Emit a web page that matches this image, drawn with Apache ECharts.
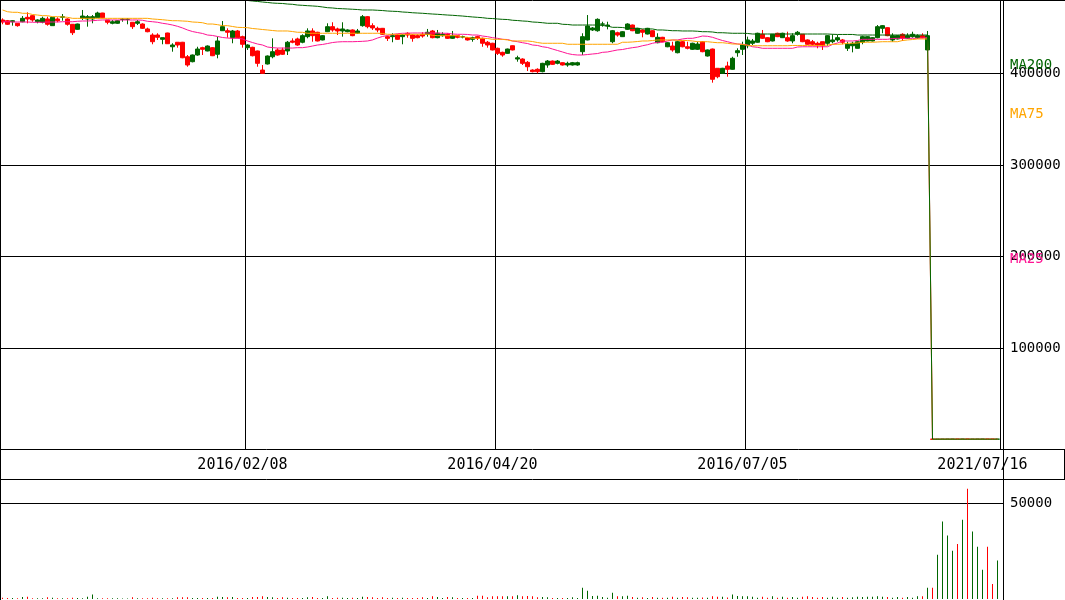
<!DOCTYPE html>
<html><head><meta charset="utf-8">
<script src="https://cdn.jsdelivr.net/npm/echarts@6/dist/echarts.min.js"></script>
<style>html,body{margin:0;padding:0;background:#fff}#c{width:1065px;height:600px}</style>
</head><body><div id="c"></div>
<script>
// candles: [open, close, low, high]
const candles = [
[458200,456000,453500,460000],[457400,453500,452700,458200],[456300,457400,452000,457900],[454600,452000,450900,454600],[456300,460000,455700,462500],
[461100,459300,454600,466600],[462900,458200,456300,463600],[456300,458200,454600,458900],[455700,460000,454600,461800],[459300,453500,452000,461800],
[452000,461100,452000,461500],[459300,457400,455700,461100],[461100,461800,457400,464700],[459300,453500,452000,460000],[453500,444300,441800,453800],
[448000,453800,447500,454200],[460000,462500,458200,469100],[459300,461800,450900,463600],[459300,461800,454600,463600],[460700,465800,460700,467200],
[465800,460700,460000,466000],[458200,455700,453500,458200],[454600,456300,453500,458200],[454600,457400,454000,458000],[458800,459100,456300,460000],
[458800,459100,453500,460000],[455700,450900,448400,456000],[454600,456300,452700,458200],[453800,449100,448400,454600],[448400,445400,444800,449800],
[441800,434500,431700,443700],[441800,439300,436400,443700],[437100,438900,431700,438900],[444000,432300,432000,444300],[429000,430900,423600,432800],
[433900,430900,428000,433900],[433900,417000,416500,434300],[418100,409100,407200,420000],[412700,420000,412000,420500],[420000,426500,419200,429000],
[428000,426200,420000,429000],[424400,429800,424000,430500],[428000,419200,418800,428500],[420800,435300,416400,440000],[446500,450900,446200,457100],
[446500,444800,438900,449100],[438900,446200,432800,447300],[446200,438900,438200,447300],[440000,431700,428000,441100],[428000,430900,425500,431700],
[428400,419200,418500,429000],[424400,410900,407200,424800],[403600,400000,399500,409100],[410200,418900,409600,419500],[418100,423600,416400,438200],
[425500,420000,419200,427300],[425500,420800,420000,428000],[424400,433900,420000,435300],[435300,433900,432800,438200],[437500,430900,430100,438900],
[433900,441100,432800,442600],[440000,446200,438200,449100],[446200,441100,434500,449100],[444800,435300,434800,445300],[436400,441100,436000,441800],
[445400,450900,445000,454600],[450900,447300,445400,455700],[448400,446200,441800,449800],[446200,448400,440000,455700],[445400,447300,444800,448000],
[447300,441100,440500,448000],[443700,446200,443200,448400],[452000,461800,450900,463600],[461800,450900,449100,462500],[452000,449500,447300,454600],
[449100,447300,444800,450900],[449100,442600,442000,449500],[440000,438200,435300,441100],[440000,441100,433900,443700],[441800,437100,436400,442600],
[440000,441800,431700,442600],[443700,441800,438900,444800],[441800,438200,434500,442600],[441100,438900,438200,442600],[442600,440700,438900,444800],
[442600,444800,440000,448400],[446200,438900,438200,447300],[438900,443700,438200,447300],[441100,442600,440000,444800],[442600,438200,437500,443700],
[438200,441100,437500,446200],[441100,439300,438200,441800],[439600,440000,438200,441100],[438900,436400,435800,439600],[437100,438900,434500,440000],
[440000,438200,436400,441100],[438200,432800,429000,438900],[433900,430900,428000,435300],[432800,425500,425000,433300],[427300,421800,420000,428000],
[422900,420000,418100,423600],[421800,426500,421300,427000],[430100,425500,425000,430500],[415600,417000,412700,419200],[415600,410900,409100,416400],
[412000,407200,402500,413400],[403600,401800,401100,404400],[404400,401800,400000,405500],[401800,410900,401100,411500],[409100,413400,406100,414500],
[413400,409800,409100,414000],[410900,413400,409800,414500],[411600,409100,408500,412000],[409100,410900,407200,412700],[409100,411600,408500,412400],
[409100,411600,408300,412700],[423600,440000,420000,443700],[436400,451600,436000,463600],[447300,449500,446200,450500],[446500,458900,445400,460000],
[453600,453900,450900,456300],[451600,452700,448000,456300],[434500,446500,432800,447300],[444300,441800,440000,445400],[440000,445400,439600,446000],
[448000,453800,447300,454600],[452700,446500,446000,453200],[443700,449100,443200,449600],[447300,444800,439300,448000],[442900,449100,442400,449600],
[446500,440000,439500,447000],[433400,439300,432800,443700],[439300,434500,434000,439800],[429000,433400,428500,434000],[429800,425500,423600,434500],
[422500,434500,421800,435600],[434500,429000,428400,435600],[429000,427300,426200,434500],[426200,432800,425500,433400],[426200,432000,425500,434500],
[434500,423600,423000,435000],[418900,425500,418300,426000],[426500,393500,389800,427000],[405500,396300,394600,405500],[400000,405500,399500,406000],
[408000,404400,396300,412700],[404400,416400,404000,418100],[422500,424700,418100,427300],[426200,430900,420000,434500],[430100,436400,427300,440000],
[432800,435300,430900,437500],[433900,443700,433400,444300],[442600,438200,437500,447300],[438900,434500,434000,439500],[435300,442600,434800,443000],
[443700,440000,439500,444300],[438900,443700,438500,444300],[438900,435300,434500,445400],[435300,441100,432800,443700],[442600,444800,441100,446200],
[442600,434500,434000,443000],[436400,431700,431200,437000],[434500,431700,430100,436400],[432800,430900,427300,434500],[434500,430100,425500,434500],
[432800,441100,430100,441800],[434500,436400,432800,442600],[436400,438900,434500,441800],[436400,433900,431700,437500],[427300,431700,424400,434500],
[430100,432800,422900,434500],[427300,434500,427000,435000],[433900,440000,431700,441100],[435300,440000,435000,440500],[435300,438900,434800,439500],
[438900,450900,438200,452700],[449100,452000,443700,452700],[449800,441100,440500,450300],[436400,441100,434500,443700],[437500,441100,437000,441600],
[442600,438200,435300,443700],[438200,441100,437500,443700],[440000,442600,438900,445400],[438900,441100,437500,442600],[441100,438900,438200,443700],
[425500,441100,425000,446200],[950,750,650,1050],[750,900,700,1000],[800,950,750,1050],[850,1000,800,1100],
[900,1000,850,1100],[1050,850,800,1100],[850,1050,800,1150],[1100,850,800,1200],[850,950,800,1000],
[900,1000,850,1050],[950,1000,900,1050],[1000,900,850,1050],[950,900,850,1000],[900,950,850,1000]
];
const ma25 = [
456300,456300,456000,456000,456000,456000,455700,455700,455700,456000,
456000,456000,456300,456300,456300,456800,457100,457100,457400,457900,
458200,458200,458200,458200,458200,458200,458200,458200,457900,456800,
456300,455700,454600,453800,452700,451300,449500,447300,445600,444500,
443500,441800,441300,440200,439100,438500,438200,438200,437500,435300,
433600,432000,430900,428700,428000,427600,427600,427600,427600,428000,
428000,428700,429800,430900,431500,432500,433600,434200,434500,434500,
434500,434700,434900,435300,436400,438500,440200,441300,442400,443200,
443700,443700,444000,444000,444000,444000,444000,444000,443700,443700,
442900,442600,442600,442400,441800,441800,440700,440000,438900,438200,
437100,436900,435300,434500,433400,432500,430900,430400,429000,428200,
426500,424900,423300,421600,420500,420000,420000,420500,421100,421600,
422900,423300,424400,425500,426000,427100,428000,428700,430100,431200,
432800,433900,433900,435300,436400,436400,437500,438200,438200,439300,
440700,440400,439300,437500,435800,434500,433100,432000,431700,430900,
429000,428400,427300,427300,427300,427300,427300,427300,427300,428700,
429000,429000,429000,429000,429000,429000,431500,433100,435300,435300,
435300,435800,437100,437100,437100,437100,437100,437100,438000,438200,
438200,438200,438200,438200,438500,438900,900,900,900,900,
900,900,900,900,900,900,900,900,900,900
];
const ma75 = [
469100,467200,466600,466600,465500,465500,464200,463600,462900,462900,
461800,461800,461500,461100,460000,460000,460000,460000,460000,460000,
460000,460000,460000,460000,460000,460000,460000,460000,460000,460000,
459300,458900,458500,457900,457400,457400,457100,456800,456000,455700,
455200,453800,453800,453100,452000,452000,451100,450200,450000,449800,
448900,448400,447800,447300,446700,446200,446200,446200,445600,444800,
444800,443700,443700,443700,443700,443700,443700,443700,443700,443700,
443700,443700,443700,443700,443700,443700,443500,442600,442600,442600,
442600,442600,442600,442600,442600,442600,441500,441100,441100,441100,
441100,441100,439600,439300,438200,438200,438200,438000,437100,437100,
437100,436400,435300,435300,435300,435300,434700,433600,432800,432800,
432800,432800,432800,431700,431700,431700,431700,431700,431700,431700,
431700,431700,431700,431700,433900,433900,434200,434700,435300,435300,
435800,436400,436400,436400,436400,436000,435800,435800,435300,434500,
434500,434500,433900,433400,433400,432800,432000,432000,431500,430600,
430100,430100,430100,430100,430100,430100,430100,430100,430400,430400,
430400,430400,430400,430400,430400,430900,431700,431700,432000,432800,
432800,433100,433900,433900,433900,434200,434500,434500,434500,434500,
435800,436400,436900,437500,437500,437500,900,900,900,900,
900,900,900,900,900,900,900,900,900,900
];
const ma200 = [
null,null,null,null,null,null,null,null,null,null,
null,null,null,null,null,null,null,null,null,null,
null,null,null,null,null,null,null,null,null,null,
null,null,null,null,null,null,null,null,null,null,
null,null,null,null,null,null,null,null,null,479500,
478900,478400,477800,477300,476700,476400,476200,475600,475300,474500,
474200,473800,473500,473100,472400,471600,471300,470700,470500,470200,
469900,469600,469100,469100,469100,468800,468500,468000,467700,467500,
466900,466600,466100,465800,465500,465100,464700,464400,464000,463600,
463300,462900,462500,462000,461500,461100,460700,460000,459800,459300,
458900,458700,457900,457600,457100,456800,456000,455700,455200,454600,
454600,454600,453500,453300,452700,452700,452700,452700,452700,452700,
452200,451600,450200,450200,450000,449100,449100,449100,448400,448400,
448400,447300,447300,446900,446500,446500,446200,446200,446200,445900,
445400,445400,445100,444300,444300,444000,443700,443700,443700,443500,
442900,442900,442900,442900,442900,442900,442900,442900,442900,442900,
442900,442900,442900,442900,442900,442900,442600,442400,442400,442400,
442400,441800,441800,441800,441800,441800,441800,441800,441800,441800,
441800,441800,441800,441800,441800,441800,900,900,900,900,
900,900,900,900,900,900,900,900,900,900
];
const volumes = [
700,500,500,400,1000,1200,400,400,400,900,
700,400,400,400,700,500,400,1200,2400,400,
400,400,400,400,300,300,900,400,400,400,
700,400,400,400,400,900,900,900,500,500,
500,500,500,1200,1000,900,1000,500,500,500,
1000,1000,1400,1000,900,500,900,700,500,500,
500,900,1000,500,500,1400,500,700,700,500,
700,500,1200,1000,900,500,900,500,700,500,
700,500,500,500,900,500,1400,1000,500,1000,
900,500,500,500,500,1700,1700,900,1400,1400,
1400,1400,1400,1900,1400,1600,1400,900,1000,900,
500,500,500,500,900,500,5900,4300,1600,1700,
1000,700,3300,1400,1400,1700,1000,700,900,500,
1000,700,600,600,1200,700,1000,900,600,600,
800,700,1400,1200,1200,800,2400,1600,1400,1400,
1200,700,1200,700,1400,700,1200,700,1000,700,
1200,1400,1000,700,1000,700,1200,700,1000,700,
900,1200,1000,1200,1200,1400,1200,1000,700,1000,
700,1000,700,1400,1400,5900,5900,23000,40400,33100,
25200,28700,41300,57500,35200,27200,15300,27200,7800,20000
];
const dateLabelIdx = [48, 98, 148, 196];
const dateLabels = ['2016/02/08', '2016/04/20', '2016/07/05', '2021/07/16'];
const dateLineIdx = [49, 99, 149];
const maNames = ['MA200', 'MA75', 'MA25'];

const UP = '#006600', DOWN = '#ff0000';
const C200 = '#006400', C75 = '#ffa500', C25 = '#ff1493';
const FONT = '"DejaVu Sans Mono", monospace';
const cats = candles.map((_, i) => i);
const isUp = (i) => candles[i][1] >= candles[i][0];
const volUp = volumes.map((v, i) => isUp(i) ? v : '-');
const volDown = volumes.map((v, i) => isUp(i) ? '-' : v);

const chart = echarts.init(document.getElementById('c'), null, {renderer: 'canvas'});
const line = (x1, y1, x2, y2) => ({type: 'line', silent: true, z: 100, shape: {x1, y1, x2, y2}, style: {stroke: '#000', lineWidth: 1}});
const plain = (v) => String(v);
const stub = {show: true, inside: false, length: 3, lineStyle: {color: '#000', width: 1}};
chart.setOption({
  animation: false,
  backgroundColor: '#fff',
  grid: [
    {left: 0, top: 0, width: 1000, height: 440, containLabel: false, outerBoundsMode: 'none'},
    {left: 0, top: 0, width: 1000, height: 449, containLabel: false, outerBoundsMode: 'none'},
    {left: 0, top: 480, width: 1000, height: 119, containLabel: false, outerBoundsMode: 'none'}
  ],
  xAxis: [
    {type: 'category', gridIndex: 0, data: cats, boundaryGap: true, show: false},
    {type: 'category', gridIndex: 1, data: cats, boundaryGap: true,
      axisLine: {show: false}, axisTick: {show: false},
      splitLine: {show: true, interval: (i) => dateLineIdx.includes(i), lineStyle: {color: '#000', width: 1}},
      axisLabel: {show: true, interval: (i) => dateLabelIdx.includes(i), hideOverlap: false,
        formatter: (v) => { const k = dateLabelIdx.indexOf(Number(v)); return k >= 0 ? dateLabels[k] : ''; },
        margin: 9, color: '#000', fontFamily: FONT, fontSize: 15}},
    {type: 'category', gridIndex: 2, data: cats, boundaryGap: true, show: false}
  ],
  yAxis: [
    {type: 'value', gridIndex: 0, position: 'right', min: 0, max: 480000, interval: 100000,
      axisLine: {show: false}, axisTick: stub,
      splitLine: {show: true, showMinLine: false, showMaxLine: false, lineStyle: {color: '#000', width: 1}},
      axisLabel: {margin: 10, color: '#000', fontFamily: FONT, fontSize: 14, formatter: plain, showMinLabel: false, showMaxLabel: false, hideOverlap: false}},
    {type: 'value', gridIndex: 1, show: false, splitLine: {show: false}},
    {type: 'value', gridIndex: 2, position: 'right', min: 0, max: 62000, interval: 50000,
      axisLine: {show: false}, axisTick: stub,
      splitLine: {show: true, showMinLine: false, showMaxLine: false, lineStyle: {color: '#000', width: 1}},
      axisLabel: {margin: 10, color: '#000', fontFamily: FONT, fontSize: 14, formatter: plain, showMinLabel: false, showMaxLabel: false, hideOverlap: false}}
  ],
  series: [
    {type: 'candlestick', xAxisIndex: 0, yAxisIndex: 0, data: candles, barWidth: 4, z: 2,
      itemStyle: {color: UP, color0: DOWN, borderColor: UP, borderColor0: DOWN, borderColorDoji: UP, borderWidth: 1}},
    {type: 'line', name: 'MA25', xAxisIndex: 0, yAxisIndex: 0, data: ma25, showSymbol: false, z: 3, lineStyle: {color: C25, width: 1}, itemStyle: {color: C25}},
    {type: 'line', name: 'MA75', xAxisIndex: 0, yAxisIndex: 0, data: ma75, showSymbol: false, z: 4, lineStyle: {color: C75, width: 1}, itemStyle: {color: C75}},
    {type: 'line', name: 'MA200', xAxisIndex: 0, yAxisIndex: 0, data: ma200, showSymbol: false, z: 5, lineStyle: {color: C200, width: 1}, itemStyle: {color: C200}},
    {type: 'bar', name: 'volUp', xAxisIndex: 2, yAxisIndex: 2, data: volUp, barWidth: 1, barGap: '-100%', itemStyle: {color: UP}},
    {type: 'bar', name: 'volDown', xAxisIndex: 2, yAxisIndex: 2, data: volDown, barWidth: 1, barGap: '-100%', itemStyle: {color: DOWN}}
  ],
  graphic: [
    line(0, 0.5, 1065, 0.5),
    line(0.5, 0, 0.5, 600),
    line(1003.5, 0, 1003.5, 600),
    line(0, 449.5, 1065, 449.5),
    line(0, 479.5, 1065, 479.5),
    line(1064.5, 449, 1064.5, 480),
    {type: 'text', z: 101, style: {text: maNames[0], x: 1010, y: 65, fill: C200, font: '14px ' + FONT, verticalAlign: 'middle'}},
    {type: 'text', z: 101, style: {text: maNames[1], x: 1010, y: 114, fill: C75, font: '14px ' + FONT, verticalAlign: 'middle'}},
    {type: 'text', z: 101, style: {text: maNames[2], x: 1010, y: 259, fill: C25, font: '14px ' + FONT, verticalAlign: 'middle'}}
  ]
});
</script></body></html>
